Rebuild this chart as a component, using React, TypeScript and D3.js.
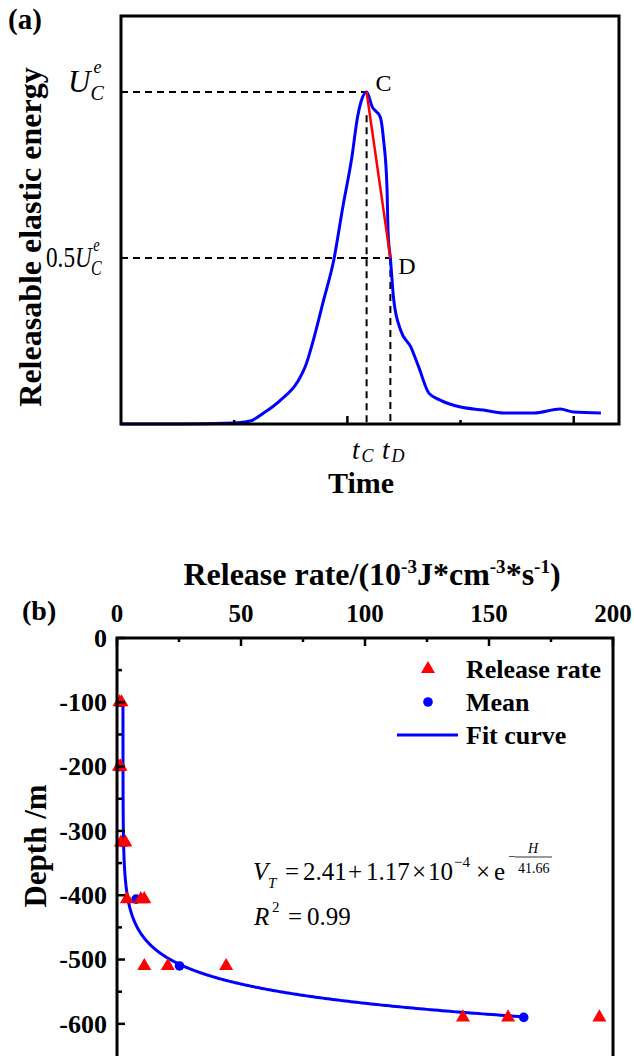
import React from 'react';
import * as d3 from 'd3';

// (a) releasable elastic energy against time, both in arbitrary units
const timeVals = [0, 0.52, 0.99, 1.14, 1.26, 1.41, 1.56, 1.64, 1.7, 1.79, 1.88, 1.96, 2.04, 2.09, 2.12, 2.17, 2.22, 2.29, 2.32, 2.35, 2.36, 2.38, 2.41, 2.47, 2.56, 2.63, 2.72, 2.82, 3.0, 3.2, 3.38, 3.65, 3.88, 4.0, 4.24];
const energyVals = [0, 0, 0.003, 0.009, 0.033, 0.072, 0.127, 0.184, 0.253, 0.373, 0.494, 0.654, 0.804, 0.925, 0.97, 1.0, 0.955, 0.925, 0.855, 0.714, 0.575, 0.5, 0.373, 0.283, 0.232, 0.172, 0.093, 0.072, 0.051, 0.042, 0.033, 0.033, 0.045, 0.036, 0.033];
const tC = 2.17;
const tD = 2.38;

// (b) release rate against depth
const rateDepths = [-100, -100, -200, -200, -318, -318, -406, -406, -406, -510, -510, -510, -590, -590, -590];
const rateVals = [1.0, 1.8, 0.8, 1.4, 1.6, 3.4, 4.0, 9.6, 11.0, 11.0, 20.5, 44.0, 139.5, 157.7, 194.5];
const meanDepths = [-100, -200, -318, -406, -510, -590];
const meanVals = [1.4, 1.1, 2.5, 7.7, 25.2, 164];
// fit: V = a + b * exp(-H / c)
const fitA = 2.41;
const fitB = 1.17e-4;
const fitC = 41.66;
const fitDepths = d3.range(-100, -589.5, -0.5);

const rateTicks = [0, 50, 100, 150, 200];
const rateMinor = [25, 75, 125, 175];
const depthTicks = [0, -100, -200, -300, -400, -500, -600];
const depthMinor = [-50, -150, -250, -350, -450, -550];

const serif = '"Liberation Serif", "Times New Roman", serif';

const App = () => {
  // panel (a)
  const ax = d3.scaleLinear().domain([0, 4.4]).range([121, 619]);
  const ay = d3.scaleLinear().domain([0, 1.229]).range([424, 16]);
  const energy = timeVals.map((t, i) => ({ t, e: energyVals[i] }));
  const energyLine = d3
    .line<{ t: number; e: number }>()
    .x(d => ax(d.t))
    .y(d => ay(d.e))
    .curve(d3.curveMonotoneX);

  // panel (b)
  const bx = d3.scaleLinear().domain([0, 200]).range([117, 613]);
  const by = d3.scaleLinear().domain([0, -650]).range([638, 1056]);
  const fit = fitDepths.map(h => ({ h, v: fitA + fitB * Math.exp(-h / fitC) }));
  const fitLine = d3
    .line<{ h: number; v: number }>()
    .x(d => bx(d.v))
    .y(d => by(d.h));
  const tri = d3.symbol().type(d3.symbolTriangle).size(85)();

  const dash = '7,5';

  return (
    <svg width={634} height={1056} style={{ position: 'absolute', left: 0, top: 0 }} fontFamily={serif}>
      <rect width={634} height={1056} fill="#fff" />

      {/* ---------- (a) ---------- */}
      <text x={8} y={29} fontSize={29} fontWeight="bold">(a)</text>
      <text transform="translate(41,237) rotate(-90)" textAnchor="middle" fontSize={32} fontWeight="bold">
        Releasable elastic energy
      </text>

      {/* dashed guides */}
      <line x1={ax(0)} x2={ax(tC)} y1={ay(1)} y2={ay(1)} stroke="#000" strokeWidth={2} strokeDasharray={dash} />
      <line x1={ax(0)} x2={ax(tD)} y1={ay(0.5)} y2={ay(0.5)} stroke="#000" strokeWidth={2} strokeDasharray={dash} />
      <line x1={ax(tC)} x2={ax(tC)} y1={ay(0.93)} y2={ay(0)} stroke="#000" strokeWidth={2} strokeDasharray={dash} />
      <line x1={ax(tD)} x2={ax(tD)} y1={ay(0.5)} y2={ay(0)} stroke="#000" strokeWidth={2} strokeDasharray={dash} />

      <path d={energyLine(energy) || ''} fill="none" stroke="#0000ff" strokeWidth={3} />
      <line x1={ax(tC)} y1={ay(1)} x2={ax(tD)} y2={ay(0.5)} stroke="#ff0000" strokeWidth={2.5} />

      <rect x={121} y={16} width={498} height={408} fill="none" stroke="#000" strokeWidth={3} />
      {[1, 2, 3, 4].map(t => (
        <line key={t} x1={ax(t)} x2={ax(t)} y1={424} y2={424 - (t % 2 === 0 ? 8 : 4)} stroke="#000" strokeWidth={2.5} />
      ))}

      <text x={ax(tC) + 9} y={91} fontSize={24}>C</text>
      <text x={ax(tD) + 8} y={274} fontSize={24}>D</text>

      {/* U_C^e labels */}
      <text x={68} y={92} fontSize={31} fontStyle="italic">
        U<tspan fontSize={18} dx={3} dy={-19}>e</tspan>
        <tspan fontSize={20} dx={-11} dy={27}>C</tspan>
      </text>
      <text transform="translate(46,267) scale(0.8,1)" fontSize={29}>
        0.5<tspan fontStyle="italic">U</tspan>
        <tspan fontStyle="italic" fontSize={18} dx={2} dy={-16}>e</tspan>
        <tspan fontStyle="italic" fontSize={20} dx={-11} dy={24}>C</tspan>
      </text>

      <text x={352} y={459} fontSize={27} fontStyle="italic">
        t<tspan fontSize={18} dx={2} dy={3}>C</tspan>
      </text>
      <text x={382} y={459} fontSize={27} fontStyle="italic">
        t<tspan fontSize={18} dx={2} dy={3}>D</tspan>
      </text>
      <text x={361} y={493} textAnchor="middle" fontSize={30} fontWeight="bold">Time</text>

      {/* ---------- (b) ---------- */}
      <text x={22} y={620} fontSize={28} fontWeight="bold">(b)</text>
      <text x={372} y={585} textAnchor="middle" fontSize={32} fontWeight="bold">
        Release rate/(10<tspan fontSize={19} dy={-12}>-3</tspan>
        <tspan dy={12}>J*cm</tspan>
        <tspan fontSize={19} dy={-12}>-3</tspan>
        <tspan dy={12}>*s</tspan>
        <tspan fontSize={19} dy={-12}>-1</tspan>
        <tspan dy={12}>)</tspan>
      </text>
      <text transform="translate(46,846) rotate(-90)" textAnchor="middle" fontSize={31} fontWeight="bold">
        Depth /m
      </text>

      <path d={fitLine(fit) || ''} fill="none" stroke="#0000ff" strokeWidth={3} />
      {meanVals.map((v, i) => (
        <circle key={i} cx={bx(v)} cy={by(meanDepths[i])} r={4.8} fill="#0000ff" />
      ))}
      {rateVals.map((v, i) => (
        <path key={i} d={tri || ''} transform={`translate(${bx(v)},${by(rateDepths[i])})`} fill="#ff0000" />
      ))}

      <rect x={117} y={638} width={496} height={422} fill="none" stroke="#000" strokeWidth={3} />
      {rateTicks.map(t => (
        <g key={t}>
          <line x1={bx(t)} x2={bx(t)} y1={638} y2={646} stroke="#000" strokeWidth={2.5} />
          <text x={bx(t)} y={622} textAnchor="middle" fontSize={25} fontWeight="bold">{t}</text>
        </g>
      ))}
      {rateMinor.map(t => (
        <line key={t} x1={bx(t)} x2={bx(t)} y1={638} y2={642} stroke="#000" strokeWidth={2.5} />
      ))}
      {depthTicks.map(t => (
        <g key={t}>
          <line x1={117} x2={125} y1={by(t)} y2={by(t)} stroke="#000" strokeWidth={2.5} />
          <text x={107} y={by(t)} dy="0.34em" textAnchor="end" fontSize={26} fontWeight="bold">{t}</text>
        </g>
      ))}
      {depthMinor.map(t => (
        <line key={t} x1={117} x2={122} y1={by(t)} y2={by(t)} stroke="#000" strokeWidth={2.5} />
      ))}

      {/* legend */}
      <path d={tri || ''} transform="translate(428,669)" fill="#ff0000" />
      <text x={466} y={678} fontSize={26} fontWeight="bold">Release rate</text>
      <circle cx={428} cy={702} r={4.8} fill="#0000ff" />
      <text x={466} y={711} fontSize={26} fontWeight="bold">Mean</text>
      <line x1={397} x2={458} y1={735} y2={735} stroke="#0000ff" strokeWidth={3} />
      <text x={466} y={744} fontSize={26} fontWeight="bold">Fit curve</text>

      {/* fit equation */}
      <g fontSize={25}>
        <text x={253} y={880} fontStyle="italic">V</text>
        <text x={268} y={888} fontSize={15} fontStyle="italic">T</text>
        <text x={285} y={880}>=</text>
        <text x={303} y={880}>2.41</text>
        <text x={348} y={880}>+</text>
        <text x={366} y={880}>1.17</text>
        <text x={412} y={880}>×</text>
        <text x={428} y={880}>10</text>
        <text x={454} y={867} fontSize={15}>−4</text>
        <text x={476} y={880}>×</text>
        <text x={494} y={880}>e</text>
        <text x={508} y={861} fontSize={13}>−</text>
        <text x={528} y={853} fontSize={14} fontStyle="italic">H</text>
        <line x1={515} x2={552} y1={857} y2={857} stroke="#000" strokeWidth={0.8} />
        <text x={518} y={873} fontSize={14}>41.66</text>

        <text x={254} y={925} fontStyle="italic">R</text>
        <text x={272} y={912} fontSize={15}>2</text>
        <text x={288} y={925}>=</text>
        <text x={307} y={925}>0.99</text>
      </g>
    </svg>
  );
};

export default App;
